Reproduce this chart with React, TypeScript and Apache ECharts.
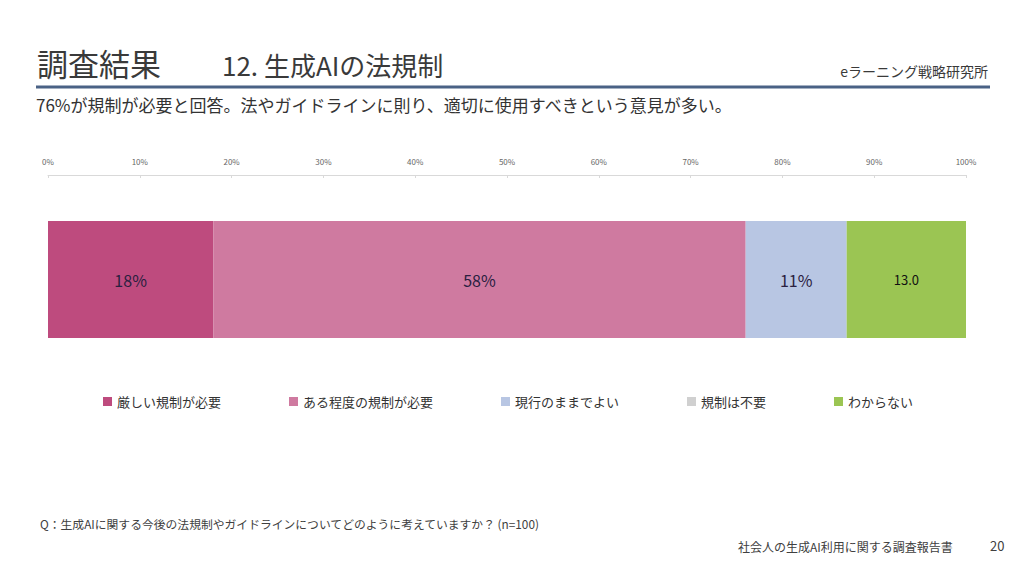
import React, { useEffect, useRef } from "react";
import * as echarts from "echarts";

const categories = ["生成AIの法規制"];
const seriesNames = ["厳しい規制が必要", "ある程度の規制が必要", "現行のままでよい", "規制は不要", "わからない"];
const seriesValues = [18, 58, 11, 0, 13];
const seriesColors = ["#BE4B7E", "#CF7AA0", "#B8C6E3", "#D0D0D0", "#9BC553"];
const labelFormats = ["pct", "pct", "pct", "pct", "dec"];
const tickLabels = ["0%", "10%", "20%", "30%", "40%", "50%", "60%", "70%", "80%", "90%", "100%"];

const FONT = "'Noto Sans CJK JP', 'Noto Sans', sans-serif";

export default function App() {
  const ref = useRef<HTMLDivElement>(null);
  useEffect(() => {
    if (!ref.current) return;
    const chart = echarts.init(ref.current, null, { renderer: "svg" });
    chart.setOption({
      animation: false,
      backgroundColor: "#ffffff",
      textStyle: { fontFamily: FONT },
      grid: { left: 48, right: 58, top: 175, height: 209 },
      xAxis: {
        type: "value",
        position: "top",
        min: 0,
        max: 100,
        interval: 10,
        axisLine: { show: true, lineStyle: { color: "#D9D9D9", width: 1 } },
        axisTick: { show: true, length: 3, inside: true, lineStyle: { color: "#D9D9D9" } },
        splitLine: { show: false },
        axisLabel: {
          fontSize: 8,
          color: "#666666",
          margin: 10,
          fontFamily: FONT,
          formatter: (v: number) => tickLabels[Math.round(v / 10)],
        },
      },
      yAxis: {
        type: "category",
        data: categories,
        show: false,
      },
      legend: {
        top: 390,
        left: 98,
        itemWidth: 9,
        itemHeight: 9,
        itemGap: 68,
        icon: "rect",
        textStyle: { fontSize: 13, color: "#333333", fontFamily: FONT },
        data: seriesNames,
      },
      series: seriesNames.map((name, i) => ({
        name,
        type: "bar",
        stack: "total",
        barWidth: 117,
        data: [seriesValues[i]],
        itemStyle: { color: seriesColors[i] },
        label: {
          show: seriesValues[i] > 0,
          position: "inside",
          fontSize: labelFormats[i] === "dec" ? 13 : 16,
          color: labelFormats[i] === "dec" ? "#111111" : "#2a2040",
          fontFamily: FONT,
          formatter: (p: any) =>
            labelFormats[i] === "dec" ? Number(p.value).toFixed(1) : `${p.value}%`,
        },
      })),
      graphic: [
        {
          type: "text",
          left: 37,
          top: 47,
          style: { text: "調査結果", fontSize: 31, fill: "#3a3a3a", fontFamily: FONT },
        },
        {
          type: "text",
          left: 222,
          top: 51,
          style: { text: "12. 生成AIの法規制", fontSize: 26, fill: "#3a3a3a", fontFamily: FONT },
        },
        {
          type: "text",
          right: 36,
          top: 64,
          style: { text: "eラーニング戦略研究所", fontSize: 14, fill: "#3a3a3a", fontFamily: FONT },
        },
        {
          type: "line",
          shape: { x1: 36, y1: 87, x2: 990, y2: 87 },
          style: { stroke: "#4A6285", lineWidth: 3 },
        },
        {
          type: "text",
          left: 36,
          top: 96,
          style: {
            text: "76%が規制が必要と回答。法やガイドラインに則り、適切に使用すべきという意見が多い。",
            fontSize: 17,
            fill: "#333333",
            fontFamily: FONT,
          },
        },
        {
          type: "text",
          left: 40,
          top: 518,
          style: {
            text: "Q：生成AIに関する今後の法規制やガイドラインについてどのように考えていますか？ (n=100)",
            fontSize: 11.8,
            fill: "#404040",
            fontFamily: FONT,
          },
        },
        {
          type: "text",
          left: 738,
          top: 540,
          style: { text: "社会人の生成AI利用に関する調査報告書", fontSize: 12, fill: "#404040", fontFamily: FONT },
        },
        {
          type: "text",
          left: 990,
          top: 539,
          style: { text: "20", fontSize: 13, fill: "#404040", fontFamily: FONT },
        },
      ],
    });
    return () => chart.dispose();
  }, []);
  return (
    <div
      ref={ref}
      style={{ position: "fixed", left: 0, top: 0, width: 1024, height: 566, background: "#fff" }}
    />
  );
}
